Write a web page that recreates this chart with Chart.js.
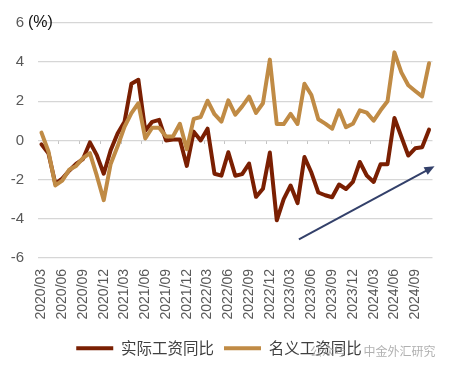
<!DOCTYPE html>
<html>
<head>
<meta charset="utf-8">
<script src="https://cdn.jsdelivr.net/npm/chart.js@4.4.1/dist/chart.umd.min.js"></script>
<style>
  html, body { margin: 0; padding: 0; background: #fff; }
</style>
</head>
<body>
<canvas id="wageChart" width="457" height="372"></canvas>
<script>
// months 2020/03 - 2024/11
const months = [
  '2020/03', '2020/04', '2020/05', '2020/06', '2020/07', '2020/08', '2020/09', '2020/10', '2020/11', '2020/12',
  '2021/01', '2021/02', '2021/03', '2021/04', '2021/05', '2021/06', '2021/07', '2021/08', '2021/09', '2021/10',
  '2021/11', '2021/12', '2022/01', '2022/02', '2022/03', '2022/04', '2022/05', '2022/06', '2022/07', '2022/08',
  '2022/09', '2022/10', '2022/11', '2022/12', '2023/01', '2023/02', '2023/03', '2023/04', '2023/05', '2023/06',
  '2023/07', '2023/08', '2023/09', '2023/10', '2023/11', '2023/12', '2024/01', '2024/02', '2024/03', '2024/04',
  '2024/05', '2024/06', '2024/07', '2024/08', '2024/09', '2024/10', '2024/11'
];

// 实际工资同比 (%)
const realWage = [
  -0.2, -0.65, -2.2, -1.95, -1.55, -1.2, -0.95, -0.1, -0.75, -1.7,
  -0.5, 0.35, 0.95, 2.9, 3.1, 0.5, 0.95, 1.05, 0.0, 0.05,
  0.05, -1.3, 0.45, 0.0, 0.6, -1.7, -1.8, -0.6, -1.8, -1.72,
  -1.18, -2.88, -2.47, -0.62, -4.08, -3.0, -2.3, -3.2, -0.85, -1.64,
  -2.66, -2.8, -2.9, -2.25, -2.48, -2.12, -1.1, -1.79, -2.12, -1.21,
  -1.21, 1.15, 0.19, -0.77, -0.4, -0.35, 0.55
];

// 名义工资同比 (%)
const nominalWage = [
  0.4, -0.55, -2.3, -2.05, -1.5, -1.3, -0.9, -0.65, -1.8, -3.05,
  -1.2, -0.3, 0.7, 1.4, 1.9, 0.1, 0.65, 0.65, 0.2, 0.2,
  0.85, -0.45, 1.1, 1.2, 2.03, 1.34, 0.96, 2.05, 1.32, 1.74,
  2.24, 1.41, 1.9, 4.13, 0.84, 0.84, 1.36, 0.84, 2.9, 2.32,
  1.08, 0.86, 0.6, 1.54, 0.68, 0.85, 1.54, 1.42, 1.01, 1.54,
  2.0, 4.5, 3.48, 2.82, 2.53, 2.25, 3.94
];

const yTicks = [-6, -4, -2, 0, 2, 4, 6];
const seriesNames = ['实际工资同比', '名义工资同比'];

// trend arrow, in (category index, %) units
const arrowFrom = [37.2, -5.05];
const arrowTo = [56.8, -1.32];

const darkRed = '#7a1f02';
const tan = '#c08b45';

const annotate = {
  id: 'annotate',
  afterDatasetsDraw(chart) {
    const ctx = chart.ctx;
    const xs = chart.scales.x, ys = chart.scales.y;
    // arrow
    const x1 = xs.getPixelForValue(arrowFrom[0]), y1 = ys.getPixelForValue(arrowFrom[1]);
    const x2 = xs.getPixelForValue(arrowTo[0]), y2 = ys.getPixelForValue(arrowTo[1]);
    const ang = Math.atan2(y2 - y1, x2 - x1);
    const head = 11;
    ctx.save();
    ctx.strokeStyle = '#33406a';
    ctx.fillStyle = '#33406a';
    ctx.lineWidth = 2;
    ctx.beginPath();
    ctx.moveTo(x1, y1);
    ctx.lineTo(x2 - Math.cos(ang) * head * 0.8, y2 - Math.sin(ang) * head * 0.8);
    ctx.stroke();
    ctx.beginPath();
    ctx.moveTo(x2, y2);
    ctx.lineTo(x2 - head * Math.cos(ang - 0.4), y2 - head * Math.sin(ang - 0.4));
    ctx.lineTo(x2 - head * Math.cos(ang + 0.4), y2 - head * Math.sin(ang + 0.4));
    ctx.closePath();
    ctx.fill();
    ctx.restore();
  },
  afterDraw(chart) {
    const ctx = chart.ctx;
    const ys = chart.scales.y;
    ctx.save();
    // unit label next to top tick
    ctx.font = '16px "Liberation Sans", Arial, sans-serif';
    ctx.fillStyle = '#111';
    ctx.textAlign = 'left';
    ctx.textBaseline = 'middle';
    ctx.fillText('(%)', ys.right - 10, ys.getPixelForValue(6));
    // watermark
    ctx.font = '12px "Noto Sans CJK SC", sans-serif';
    ctx.fillStyle = 'rgba(150,150,150,0.75)';
    ctx.fillText('公众号 · 中金外汇研究', 310, 351);
    ctx.restore();
  }
};

new Chart(document.getElementById('wageChart'), {
  type: 'line',
  data: {
    labels: months,
    datasets: [
      {
        label: seriesNames[0],
        data: realWage,
        borderColor: darkRed,
        backgroundColor: darkRed,
        borderWidth: 4,
        pointRadius: 0,
        tension: 0,
        borderJoinStyle: 'round',
        borderCapStyle: 'round',
        order: 1
      },
      {
        label: seriesNames[1],
        data: nominalWage,
        borderColor: tan,
        backgroundColor: tan,
        borderWidth: 4,
        pointRadius: 0,
        tension: 0,
        borderJoinStyle: 'round',
        borderCapStyle: 'round',
        order: 0
      }
    ]
  },
  options: {
    responsive: false,
    animation: false,
    devicePixelRatio: 1,
    layout: { padding: { left: 0, right: 19, top: 19, bottom: 6 } },
    plugins: {
      tooltip: { enabled: false },
      legend: {
        position: 'bottom',
        labels: {
          boxWidth: 37,
          boxHeight: 4,
          padding: 10,
          color: '#404040',
          font: { family: '"Noto Sans CJK SC", sans-serif', size: 15.5 },
          sort: (a, b) => a.datasetIndex - b.datasetIndex,
          generateLabels: (chart) => Chart.defaults.plugins.legend.labels.generateLabels(chart).map(it => {
            it.lineWidth = 0;
            it.fillStyle = it.strokeStyle;
            return it;
          })
        }
      }
    },
    scales: {
      x: {
        type: 'category',
        offset: true,
        grid: { display: false, drawTicks: false },
        border: { display: false },
        ticks: {
          autoSkip: false,
          minRotation: 90,
          maxRotation: 90,
          padding: 11,
          color: '#595959',
          font: { family: '"Liberation Sans", Arial, sans-serif', size: 14 },
          callback: function (val, idx) {
            return idx % 3 === 0 ? this.getLabelForValue(val) : '';
          }
        }
      },
      x2: {
        type: 'category',
        offset: true,
        position: { y: 0 },
        border: { display: false },
        grid: {
          offset: true,
          drawOnChartArea: false,
          drawTicks: true,
          tickLength: 4,
          lineWidth: 1,
          color: (c) => (c.index > 0 && c.index % 3 === 0) ? '#c4c4c4' : 'rgba(0,0,0,0)'
        },
        ticks: { display: false }
      },
      y: {
        min: -6,
        max: 6,
        afterBuildTicks: (s) => { s.ticks = yTicks.map(v => ({ value: v })); },
        afterFit: (s) => { s.width = 38; },
        grid: { color: '#d6d6d6', lineWidth: 1.3, drawTicks: false },
        border: { display: false },
        ticks: {
          padding: 14,
          color: '#595959',
          font: { family: '"Liberation Sans", Arial, sans-serif', size: 15 }
        }
      }
    }
  },
  plugins: [annotate]
});
</script>
</body>
</html>
